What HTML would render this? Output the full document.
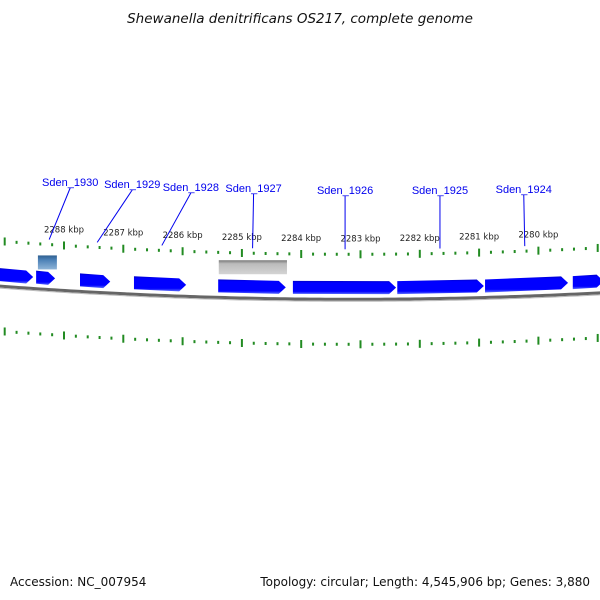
<!DOCTYPE html>
<html><head><meta charset="utf-8"><style>
html,body{margin:0;padding:0;background:#fff;width:600px;height:600px;overflow:hidden}
svg{display:block;font-family:"DejaVu Sans","Liberation Sans",sans-serif}
</style></head><body>
<svg id="chart" width="600" height="600" viewBox="0 0 600 600">
<defs>
<linearGradient id="gb" x1="0" y1="0" x2="0" y2="1"><stop offset="0" stop-color="#0000c8"/><stop offset="0.15" stop-color="#0000ff"/><stop offset="0.8" stop-color="#0000ff"/><stop offset="1" stop-color="#5a6cff"/></linearGradient>
<linearGradient id="gg" x1="0" y1="0" x2="0" y2="1"><stop offset="0" stop-color="#777"/><stop offset="0.25" stop-color="#bbb"/><stop offset="1" stop-color="#d4d4d4"/></linearGradient>
<linearGradient id="gl" x1="0" y1="0" x2="0" y2="1"><stop offset="0" stop-color="#2f5f8f"/><stop offset="0.3" stop-color="#4a7fb5"/><stop offset="1" stop-color="#8fb4d8"/></linearGradient>
</defs>
<text x="300" y="23" text-anchor="middle" font-size="13.5" font-style="italic" fill="#111">Shewanella denitrificans OS217, complete genome</text>
<text x="10" y="586" font-size="12" fill="#111">Accession: NC_007954</text>
<text x="590" y="586" text-anchor="end" font-size="12" fill="#111">Topology: circular; Length: 4,545,906 bp; Genes: 3,880</text>
<g id="layer"></g>
</svg>
<script>
const tickKbp = [2289, 2288, 2287, 2286, 2285, 2284, 2283, 2282, 2281, 2280, 2279];
const geneNames = ["Sden_1930","Sden_1929","Sden_1928","Sden_1927","Sden_1926","Sden_1925","Sden_1924"];
const geneLabelKbp = [2288.25, 2287.44, 2286.35, 2284.82, 2283.26, 2281.66, 2280.23];
const cdsStart = [2289.1, 2288.47, 2287.73, 2286.82, 2285.40, 2284.14, 2282.38, 2280.90, 2279.42];
const cdsEnd   = [2288.52, 2288.15, 2287.22, 2285.94, 2284.26, 2282.40, 2280.92, 2279.50, 2278.9];
const featStart = [2288.44, 2285.39];
const featEnd   = [2288.12, 2284.24];
const featType  = ["light", "gray"];

const NS='http://www.w3.org/2000/svg';
const layer=document.getElementById('layer');
const X0=64, PX=59.3;
function xs(k){return X0+(2288-k)*PX;}
function yc(x){return 241.13+0.0746*x-1.057e-4*x*x;}
function mk(t,a){const e=document.createElementNS(NS,t);for(const k in a)e.setAttribute(k,a[k]);layer.appendChild(e);return e;}

let d='';
for(let x=-5;x<=605;x+=5){d+=(x<0?'M':'L')+x+' '+(yc(x)+45).toFixed(2);}
let bb=mk('path',{d:d,stroke:'#666',"stroke-width":3,fill:'none'});


let bb2=mk('path',{d:d,stroke:'#bbb',"stroke-width":1,fill:'none',transform:'translate(0,2)'});



for(let i=0;i<tickKbp.length;i++){
  for(let j=0;j<5;j++){
    const k=tickKbp[i]-j*0.2;
    const x=xs(k); if(x<-2||x>602)continue;
    const y=yc(x);
    [0,90].forEach(off=>{
      const major=j===0;
      const r=mk('rect',{x:x-1,y:y+off-(major?4:1.5),width:2,height:major?8:3,fill:'#228b22'});
      
      
    });
    if(j===0 && x>20 && x<580){
      const t=mk('text',{x:x,y:y-13,"text-anchor":'middle',"font-size":8.5,fill:'#222'});
      t.textContent=tickKbp[i]+' kbp';
      
      
    }
  }
}

for(let i=0;i<featStart.length;i++){
  const x1=xs(featStart[i]),x2=xs(featEnd[i]);
  const y=yc((x1+x2)/2)+(featType[i]==='light'?11:7);
  const r=mk('rect',{x:x1,y:y,width:x2-x1,height:14,fill:featType[i]==='light'?'url(#gl)':'url(#gg)'});
  
  
}

for(let i=0;i<cdsStart.length;i++){
  const x1=xs(cdsStart[i]),x2=xs(cdsEnd[i]);
  const ya=yc(x1)+27,yb=yc(x2)+27,h=13;
  const tip=Math.min(7,(x2-x1)/2);
  const p=`M${x1} ${ya} L${x2-tip} ${yb} L${x2} ${yb+h/2} L${x2-tip} ${yb+h} L${x1} ${ya+h} Z`;
  const e=mk('path',{d:p,fill:'url(#gb)'});
  
  
}

const labelDx=[21,35,29,1,0,0,-1];
const labelY=[182,184,187,188,190,190,189];
for(let i=0;i<geneNames.length;i++){
  const xt=xs(geneLabelKbp[i]);
  const xl=xt+labelDx[i];
  const yl=labelY[i];
  const yt=yc(xt)-5;
  const l=mk('line',{x1:xl,y1:yl+6,x2:xt,y2:yt,stroke:'#0000ee',"stroke-width":1});
  
  
  const t=mk('text',{x:xl,y:yl+4,"text-anchor":'middle',"font-size":11,fill:'#0000ee',"font-family":'"Liberation Sans",sans-serif'});
  t.textContent=geneNames[i];
  
  
}
</script>
</body></html>
